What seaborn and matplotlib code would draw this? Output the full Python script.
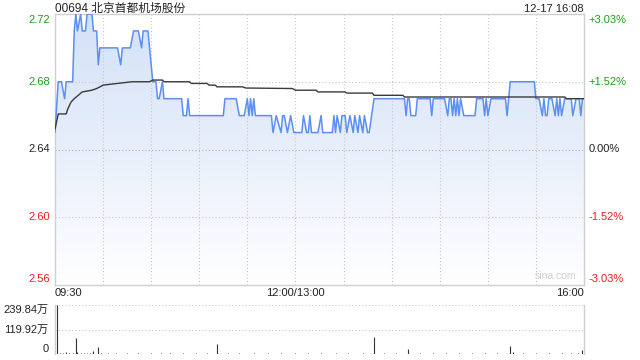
import numpy as np
import pandas as pd
import matplotlib
matplotlib.use("Agg")
import matplotlib.pyplot as plt
import seaborn as sns
from matplotlib.patches import PathPatch
from matplotlib.colors import LinearSegmentedColormap

sns.set_style("white")
plt.rcParams['font.family'] = ['Liberation Sans', 'Noto Sans CJK SC', 'DejaVu Sans']

# ---------------- data ----------------
title = "00694 北京首都机场股份"
stamp = "12-17 16:08"
pre_close = 2.64

price_min = [0, 2, 4, 6, 7, 11, 12, 13, 14, 16, 17, 19, 20, 23, 24, 26, 27, 28, 39, 41, 42, 47, 49, 52,
             54, 55, 58, 61, 63, 64, 65, 67, 68, 79, 80, 82, 83, 84, 105, 106, 113, 115, 118, 120, 121,
             122, 123, 124, 125, 135, 136, 138, 141, 142, 143, 145, 147, 149, 154, 155, 157, 158, 159,
             160, 164, 166, 167, 173, 174, 175, 176, 178, 179, 181, 182, 184, 186, 187, 189, 190, 192,
             193, 195, 196, 199, 218, 219, 220, 221, 222, 225, 226, 234, 235, 236, 243, 245, 246, 247,
             248, 249, 250, 251, 252, 253, 255, 262, 263, 267, 268, 269, 270, 272, 281, 282, 283, 284,
             299, 300, 302, 304, 305, 306, 307, 308, 310, 312, 313, 314, 315, 316, 318, 322, 323, 325,
             327, 328, 329, 330]
price_val = [2.65, 2.68, 2.68, 2.67, 2.68, 2.68, 2.71, 2.72, 2.71, 2.72, 2.71, 2.71, 2.72, 2.72, 2.71,
             2.71, 2.69, 2.70, 2.70, 2.69, 2.70, 2.70, 2.71, 2.71, 2.70, 2.71, 2.71, 2.68, 2.68, 2.67,
             2.67, 2.68, 2.67, 2.67, 2.66, 2.66, 2.67, 2.66, 2.66, 2.67, 2.67, 2.66, 2.66, 2.67, 2.66,
             2.67, 2.66, 2.67, 2.66, 2.66, 2.65, 2.66, 2.65, 2.66, 2.66, 2.65, 2.66, 2.65, 2.65, 2.66,
             2.65, 2.65, 2.66, 2.65, 2.65, 2.66, 2.65, 2.65, 2.66, 2.65, 2.66, 2.65, 2.66, 2.66, 2.65,
             2.66, 2.65, 2.66, 2.65, 2.66, 2.65, 2.66, 2.65, 2.65, 2.67, 2.67, 2.66, 2.67, 2.67, 2.66,
             2.66, 2.67, 2.67, 2.66, 2.67, 2.67, 2.66, 2.67, 2.67, 2.66, 2.67, 2.66, 2.67, 2.66, 2.67,
             2.66, 2.66, 2.67, 2.67, 2.66, 2.67, 2.66, 2.67, 2.67, 2.66, 2.67, 2.68, 2.68, 2.67, 2.67,
             2.66, 2.67, 2.66, 2.66, 2.67, 2.67, 2.66, 2.67, 2.66, 2.67, 2.66, 2.67, 2.67, 2.66, 2.67,
             2.67, 2.66, 2.67, 2.67]

avg_min = [0, 2, 7, 8, 10, 12, 17, 23, 26, 30, 39, 48, 59, 61, 67, 68, 84, 85, 95, 96, 100, 101, 117,
           119, 148, 150, 163, 164, 181, 182, 198, 199, 217, 218, 318, 319, 330]
avg_val = [2.652, 2.661, 2.661, 2.664, 2.668, 2.670, 2.674, 2.675, 2.676, 2.678, 2.679, 2.680, 2.680,
           2.681, 2.681, 2.680, 2.680, 2.679, 2.679, 2.678, 2.678, 2.677, 2.677, 2.6763, 2.676, 2.675,
           2.675, 2.674, 2.674, 2.6733, 2.6733, 2.672, 2.672, 2.671, 2.671, 2.670, 2.670]

vol_min = [1, 3, 5, 7, 9, 11, 13, 14, 16, 18, 20, 22, 24, 27, 29, 33, 38, 45, 52, 60, 66, 72, 80, 88,
           95, 101, 108, 115, 124, 133, 141, 150, 158, 166, 175, 183, 192, 199, 205, 213, 220, 228, 236,
           244, 252, 260, 268, 276, 284, 286, 292, 300, 308, 316, 322, 326, 329]
vol_val = [239.84, 6, 4, 9, 5, 6, 78, 8, 7, 5, 4, 6, 15, 34, 4, 3, 3, 4, 3, 5, 3, 3, 3, 4,
           3, 49, 3, 3, 5, 3, 3, 4, 3, 3, 3, 4, 3, 83, 4, 3, 24, 3, 4, 3, 3, 4, 3, 3, 39, 8, 3, 3, 3, 3, 3, 5, 20]

xtick_pos = [0, 150, 330]
xtick_lab = ["09:30", "12:00/13:00", "16:00"]
ytick_vals = [2.56, 2.60, 2.64, 2.68, 2.72]
pct_labels = ["-3.03%", "-1.52%", "0.00%", "+1.52%", "+3.03%"]
vol_ticks = [0, 119.92, 239.84]
vol_labels = ["0", "119.92万", "239.84万"]

# ---------------- figure ----------------
W, H = 640, 360
fig = plt.figure(figsize=(W / 100, H / 100), dpi=100)
ax = fig.add_axes([55 / W, 1 - 285 / H, 529 / W, 271 / H])
axv = fig.add_axes([55 / W, 1 - 354 / H, 529 / W, 49 / H])

GREEN = "#1aa01a"
RED = "#f01e1e"
GRID = "#c8c8c8"
FRAME = "#cfcfcf"
TXT = "#222222"

ax.set_xlim(0, 330)
ax.set_ylim(2.56, 2.72)

# gradient fill under price line
dfp = pd.DataFrame({"t": price_min, "p": price_val})
fb = ax.fill_between(dfp["t"], dfp["p"], 2.56, color="none", lw=0)
grad = np.linspace(0, 1, 256).reshape(-1, 1)
cmap = LinearSegmentedColormap.from_list("g", ["#ffffff", "#e8effb", "#d3e1f7"])
im = ax.imshow(grad, extent=[0, 330, 2.56, 2.72], origin="lower", aspect="auto",
               cmap=cmap, zorder=1)
for p in fb.get_paths():
    patch = PathPatch(p, transform=ax.transData, facecolor="none", edgecolor="none")
    ax.add_patch(patch)
    im.set_clip_path(patch)

# grid
for t in range(30, 330, 30):
    ax.axvline(t, color=GRID, lw=0.8, ls=(0, (1, 2)), zorder=2)
for v in [2.60, 2.64, 2.68]:
    ax.axhline(v, color=GRID if v != pre_close else "#b0b0b0", lw=0.8, ls=(0, (1, 2)), zorder=2)

sns.lineplot(data=dfp, x="t", y="p", ax=ax, color="#5b8ff0", lw=1.1, sort=False,
             estimator=None, zorder=4)
dfa = pd.DataFrame({"t": avg_min, "a": avg_val})
sns.lineplot(data=dfa, x="t", y="a", ax=ax, color="#3a3a3a", lw=1.0, sort=False,
             estimator=None, zorder=5)

for s in ax.spines.values():
    s.set_color(FRAME)
    s.set_linewidth(1)
ax.set_xlabel("")
ax.set_ylabel("")
ax.set_xticks([])
ax.set_yticks([])

# left price labels / right percent labels
colors = [RED, RED, TXT, GREEN, GREEN]
vas = ["bottom", "center", "center", "center", "top"]
for v, c, va, pl in zip(ytick_vals, colors, vas, pct_labels):
    off = {"bottom": 0.0008, "center": 0, "top": -0.0008}[va]
    ax.text(-3, v + off, f"{v:.2f}", color=c, fontsize=8, ha="right", va=va,
            transform=ax.transData, clip_on=False)
    ax.text(333, v + off, pl, color=c, fontsize=8, ha="left", va=va,
            transform=ax.transData, clip_on=False)

# x labels
for t, lab in zip(xtick_pos, xtick_lab):
    ha = "left" if t == 0 else ("right" if t == 330 else "center")
    ax.text(t, -0.012, lab, transform=ax.get_xaxis_transform(), ha=ha, va="top",
            fontsize=8, color=TXT, clip_on=False)

fig.text(55 / W, 1 - 12 / H, title, ha="left", va="baseline", fontsize=8.5, color=TXT)
fig.text(584 / W, 1 - 12 / H, stamp, ha="right", va="baseline", fontsize=8, color=TXT)
ax.text(0.985, 0.015, "sina.com", transform=ax.transAxes, ha="right", va="bottom",
        fontsize=7.5, color="#d0d0d0", zorder=6)

# volume panel
axv.set_xlim(0, 330)
axv.set_ylim(0, 239.84)
axv.vlines(vol_min, 0, vol_val, color="#333333", lw=0.8)
for v in [119.92, 239.84]:
    axv.axhline(v, color=GRID, lw=0.8, ls=(0, (1, 2)))
for k in ["left", "right"]:
    axv.spines[k].set_color(FRAME)
    axv.spines[k].set_linewidth(1)
axv.spines["top"].set_visible(False)
axv.spines["bottom"].set_visible(False)
axv.set_xticks([])
axv.set_yticks([])
axv.set_facecolor("none")
for v, lab in zip(vol_ticks, vol_labels):
    va = "bottom" if v == 0 else ("top" if v == 239.84 else "center")
    axv.text(-4, v, lab, ha="right", va=va, fontsize=8, color=TXT, clip_on=False,
             transform=axv.transData)

fig.savefig("out.png", dpi=100)
